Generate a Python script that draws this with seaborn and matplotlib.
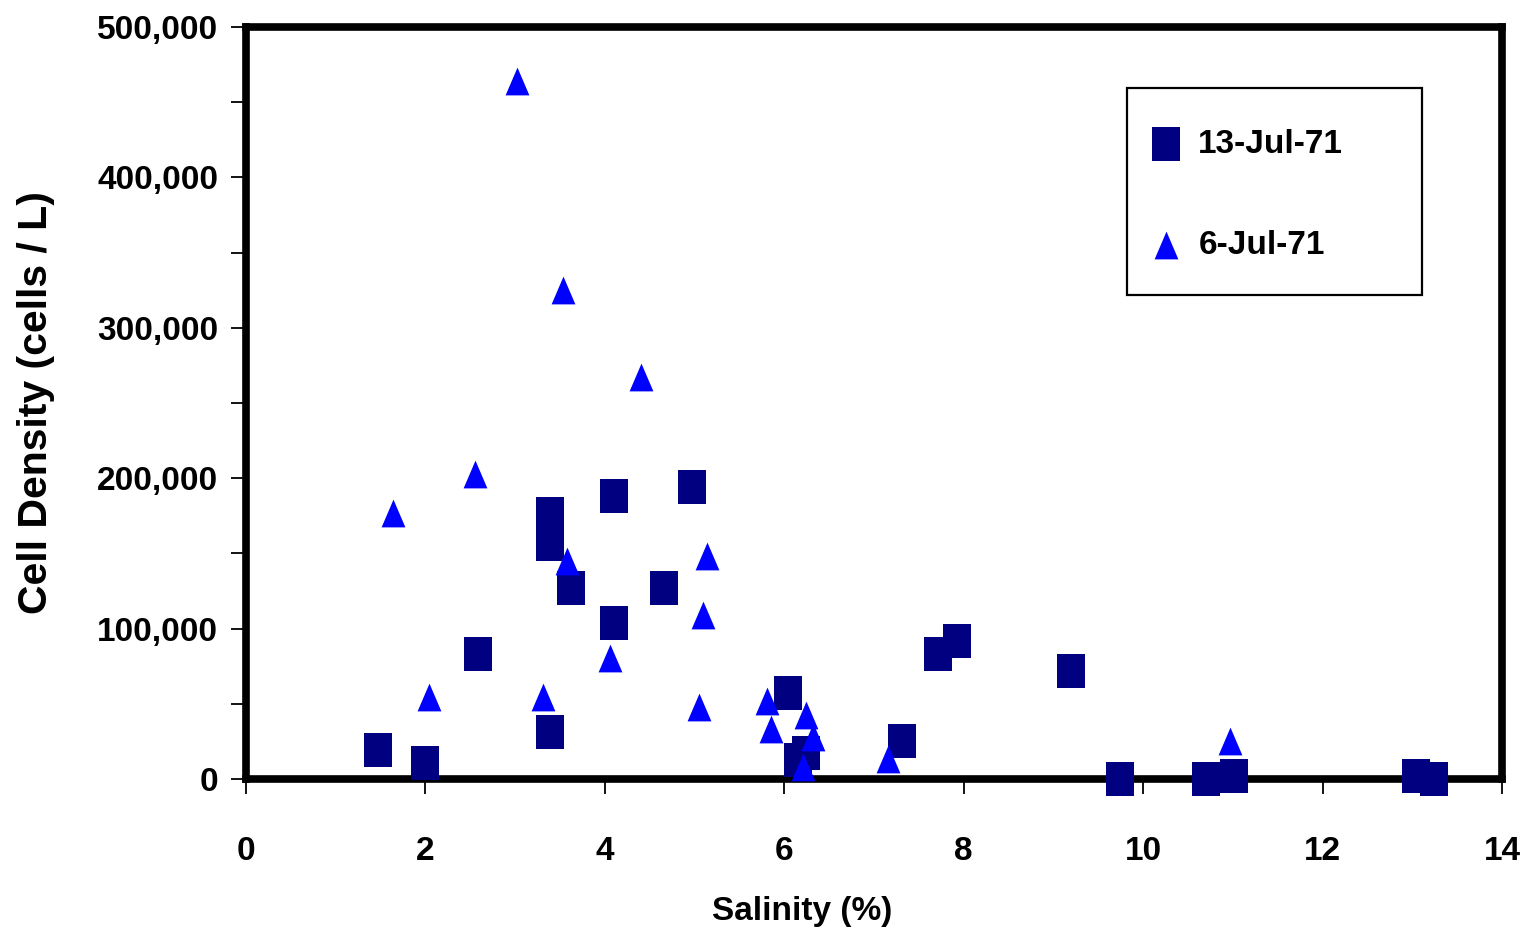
import numpy as np
import pandas as pd
import seaborn as sns
import matplotlib
matplotlib.use("Agg")
from matplotlib import pyplot as plt
from matplotlib.markers import MarkerStyle
from matplotlib.patches import Rectangle
from matplotlib.ticker import FuncFormatter, MultipleLocator

# datos
salinidad_13jul = [1.47, 2.00, 2.59, 3.39, 3.39, 3.39, 3.62, 4.10, 4.10, 4.66, 4.97, 6.04,
                   6.15, 6.24, 7.31, 7.71, 7.92, 9.19, 9.74, 10.70, 11.01, 13.04, 13.24]
densidad_13jul = [19000, 10500, 83000, 31000, 156000, 176000, 127000, 104000, 188000, 127000,
                  194000, 57000, 12500, 17000, 25000, 83000, 92000, 72000, 0, 0, 2000, 2000, 0]

salinidad_6jul = [1.64, 2.04, 2.55, 3.02, 3.31, 3.53, 3.58, 4.06, 4.40, 5.05, 5.09, 5.14,
                  5.81, 5.85, 6.21, 6.24, 6.32, 7.16, 10.97]
densidad_6jul = [177000, 54600, 203000, 464000, 54600, 325000, 145000, 80600, 267000, 48000,
                 109000, 148000, 52000, 33000, 8000, 42700, 28000, 13400, 25000]

etiquetas = ["13-Jul-71", "6-Jul-71"]
x_ticks = [0, 2, 4, 6, 8, 10, 12, 14]
y_ticks = [0, 100000, 200000, 300000, 400000, 500000]

d13 = pd.DataFrame({"Salinity": salinidad_13jul, "Density": densidad_13jul})
d6 = pd.DataFrame({"Salinity": salinidad_6jul, "Density": densidad_6jul})

sns.set_style("white")
plt.rcParams["font.family"] = ["Liberation Sans", "DejaVu Sans"]
plt.rcParams["font.weight"] = "bold"
plt.rcParams["text.color"] = "black"
plt.rcParams["axes.labelcolor"] = "black"
plt.rcParams["xtick.color"] = "black"
plt.rcParams["ytick.color"] = "black"

fig = plt.figure(figsize=(15.24, 9.35), dpi=100)
ax = fig.add_axes([0.1614, 0.1668, 0.8242, 0.8043])

# marcadores algo mas altos que anchos, como en el original
rect = MarkerStyle([(-0.8, -1), (0.8, -1), (0.8, 1), (-0.8, 1), (-0.8, -1)])
tri = MarkerStyle([(0, 1), (-0.857, -1), (0.857, -1), (0, 1)])

sns.scatterplot(data=d13, x="Salinity", y="Density", marker=rect, s=625,
                color="#000080", edgecolor="#000080", linewidth=0,
                label=etiquetas[0], ax=ax, zorder=3, clip_on=False)
sns.scatterplot(data=d6, x="Salinity", y="Density", marker=tri, s=400,
                color="#0000FF", edgecolor="#0000FF", linewidth=0,
                label=etiquetas[1], ax=ax, zorder=4, clip_on=False)

ax.set_xlim(0, 14)
ax.set_ylim(0, 500000)
ax.set_xticks(x_ticks)
ax.set_yticks(y_ticks)
ax.yaxis.set_minor_locator(MultipleLocator(50000))
ax.yaxis.set_major_formatter(FuncFormatter(lambda v, p: f"{int(v):,}"))

for s in ax.spines.values():
    s.set_visible(True)
    s.set_color("black")
    s.set_linewidth(5.5)

ax.tick_params(axis="x", which="major", direction="out", length=11, width=1.3,
               color="black", labelcolor="black", bottom=True, pad=30, labelsize=24)
ax.tick_params(axis="y", which="both", direction="out", length=11, width=1.3,
               color="black", labelcolor="black", left=True, pad=9, labelsize=24)
for lab in ax.get_xticklabels() + ax.get_yticklabels():
    lab.set_fontweight("bold")

ax.set_xlabel("Salinity (%)", fontsize=24, fontweight="bold", color="black")
ax.set_ylabel("Cell Density (cells / L)", fontsize=29.5, fontweight="bold", color="black")
ax.xaxis.set_label_coords(0.443, -0.156)
ax.yaxis.set_label_coords(-0.152, 0.5)

leg = ax.legend(loc="upper left", bbox_to_anchor=(1133 / 1524, (935 - 112) / 935),
                bbox_transform=fig.transFigure, frameon=False, borderpad=0,
                handlelength=1.0, handletextpad=0.46, labelspacing=2.1,
                prop={"size": 24, "weight": "bold"})
for t in leg.get_texts():
    t.set_color("black")
fig.patches.append(Rectangle((1127 / 1524, (935 - 295) / 935), 295 / 1524, 207 / 935,
                             transform=fig.transFigure, fill=False,
                             edgecolor="black", linewidth=1.6, zorder=5))

fig.savefig("out.png", dpi=100)
